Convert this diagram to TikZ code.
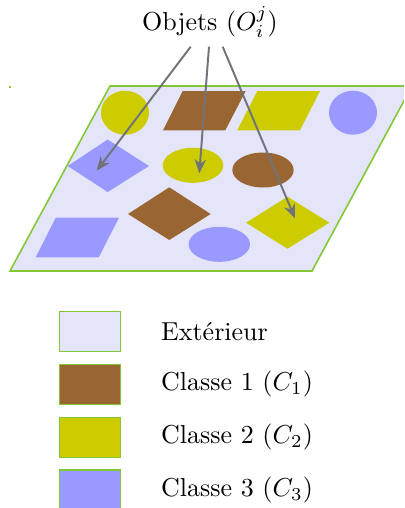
\documentclass[tikz,border=0pt]{standalone}
\usetikzlibrary{arrows.meta}
\definecolor{bgl}{RGB}{229,229,250}
\definecolor{brn}{RGB}{153,102,51}
\definecolor{ylw}{RGB}{204,204,0}
\definecolor{blu}{RGB}{153,153,255}
\definecolor{grn}{RGB}{130,200,50}
\definecolor{arr}{RGB}{112,116,120}
\tikzset{
  objarrow/.style={draw=arr, line width=0.75pt, -{Stealth[length=5.4pt,width=4.4pt]}},
  legbox/.style={draw=grn, line width=0.4pt, minimum width=61*0.385pt, minimum height=40*0.385pt, inner sep=0pt},
  legtext/.style={anchor=west, inner sep=0pt}
}
\begin{document}
\begin{tikzpicture}[x=0.385pt,y=-0.385pt]
\useasboundingbox (0,0) rectangle (404,508);
\begin{scope}
\clip (0,0) rectangle (404,508);
% plane
\fill[bgl] (10,271) -- (110,86) -- (412,86) -- (312,271) -- cycle;
\draw[grn, line width=0.6pt] (10,271) -- (110,86) -- (412,86) -- (312,271) -- cycle;
\end{scope}
\draw[grn, line width=0.6pt] (9,87) -- (11,87);
% shapes
\fill[ylw] (125,112.7) ellipse [x radius=24, y radius=22];
\fill[brn] (182.7,91) -- (245.7,91) -- (225.3,130.3) -- (163,130.3) -- cycle;
\fill[ylw] (257.3,91) -- (320,91) -- (300,130.3) -- (237.3,130.3) -- cycle;
\fill[blu] (353,112.7) ellipse [x radius=24, y radius=22];
\fill[blu] (67.7,166) -- (107.7,139.5) -- (149,166) -- (107.7,192) -- cycle;
\fill[ylw] (193,165.3) ellipse [x radius=30.3, y radius=17.5];
\fill[brn] (263,170) ellipse [x radius=30.7, y radius=17.5];
\fill[brn] (128,214) -- (169.3,187.3) -- (210.7,214) -- (169.3,240) -- cycle;
\fill[ylw] (246,222.7) -- (287.5,196.7) -- (329.3,222.7) -- (287.5,248.7) -- cycle;
\fill[blu] (55.7,217.7) -- (119,217.7) -- (98.7,257.3) -- (35.7,257.3) -- cycle;
\fill[blu] (219.3,244.3) ellipse [x radius=30.7, y radius=17.5];
% title and arrows
\node[inner sep=0pt] (title) at (210,22) {Objets ($O_i^j$)};
\coordinate (s1) at (190.7,46.7);
\coordinate (s2) at (209,46.7);
\coordinate (s3) at (222.7,46.7);
\coordinate (t1) at (96.7,170.7);
\coordinate (t2) at (199.3,173.3);
\coordinate (t3) at (295,218.3);
\draw[objarrow] (s1) -- (t1);
\draw[objarrow] (s2) -- (t2);
\draw[objarrow] (s3) -- (t3);
% legend
\node[legbox, fill=bgl] (b1) at (89.8,331.7) {};
\node[legbox, fill=brn] (b2) at (89.8,384.3) {};
\node[legbox, fill=ylw] (b3) at (89.8,437.3) {};
\node[legbox, fill=blu] (b4) at (89.8,490) {};
\node[legtext] (l1) at (160.7,331.7) {Extérieur};
\node[legtext] (l2) at (160.7,384.3) {Classe 1 ($C_1$)};
\node[legtext] (l3) at (160.7,437.3) {Classe 2 ($C_2$)};
\node[legtext] (l4) at (160.7,490) {Classe 3 ($C_3$)};
\end{tikzpicture}
\end{document}
